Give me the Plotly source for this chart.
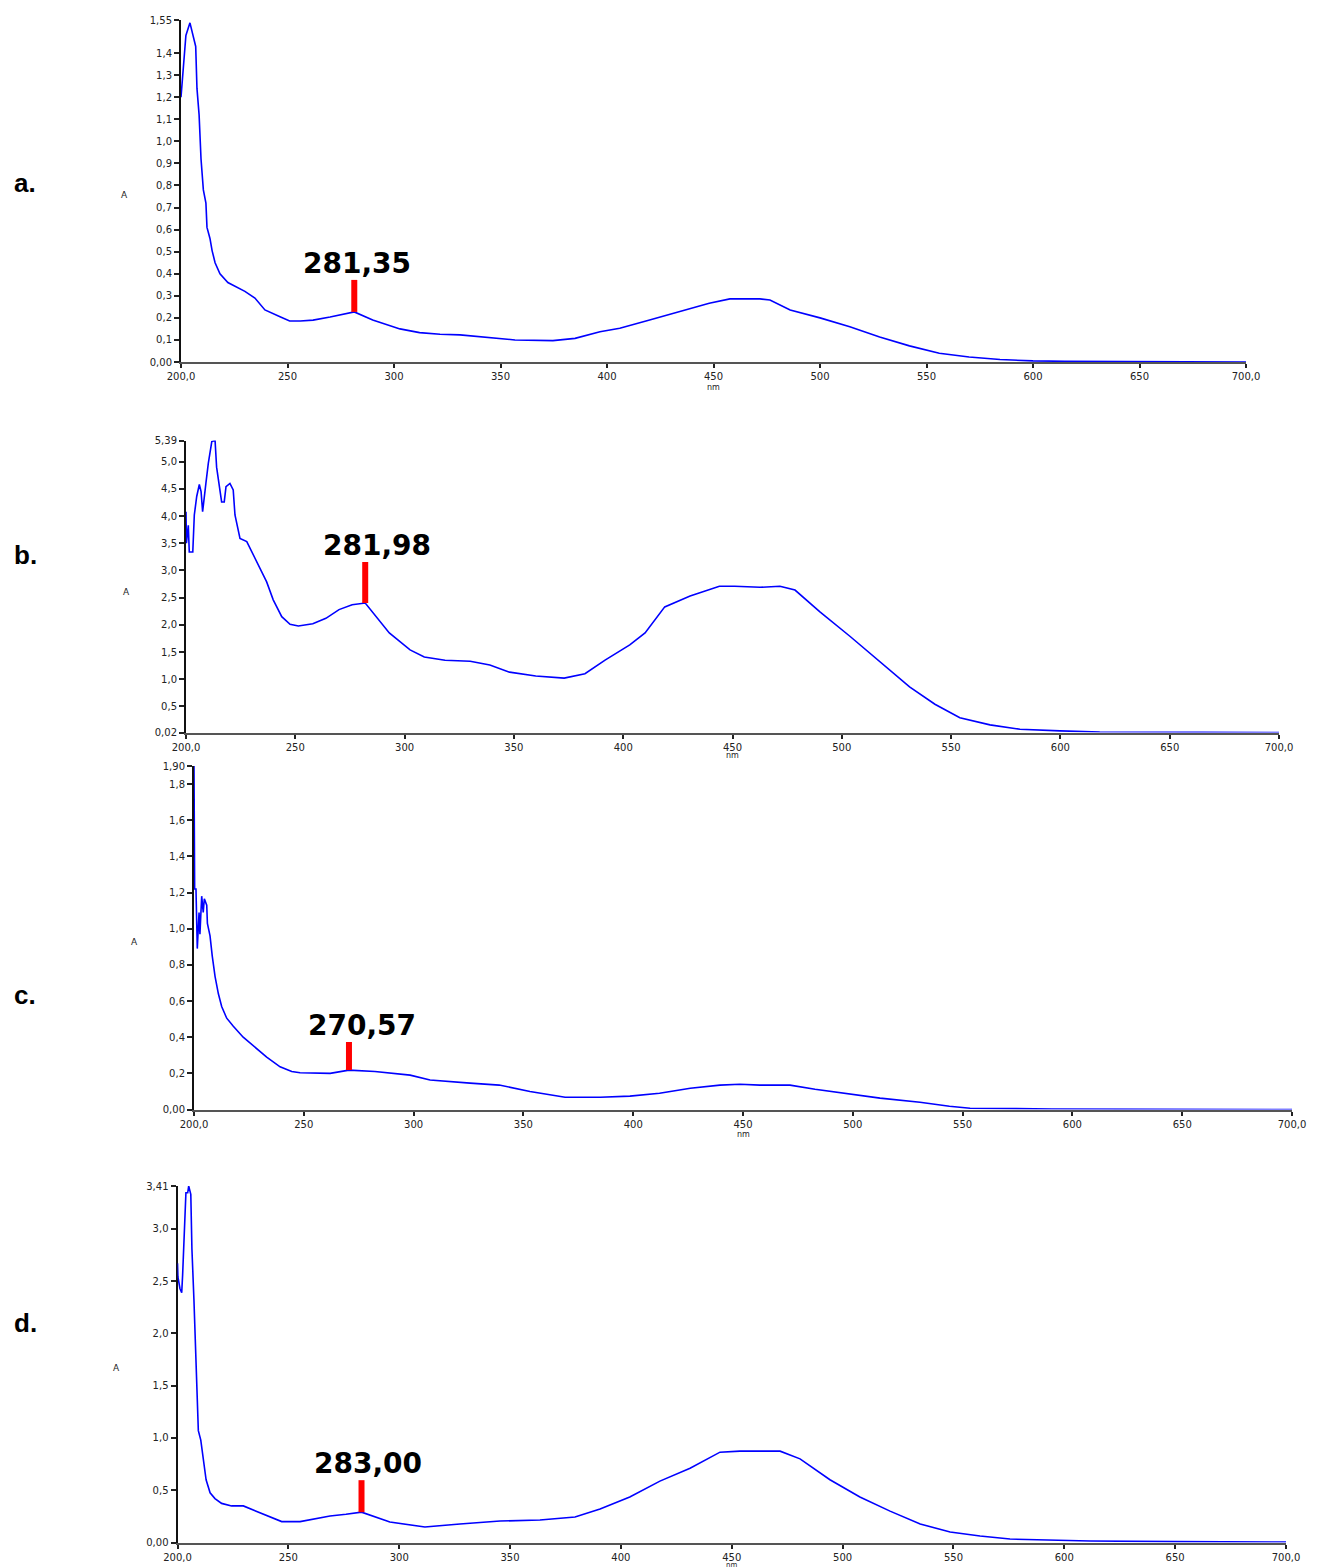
import plotly.graph_objects as go

# ---------------- data ----------------
wl_a = [200.0, 201.2, 202.3, 204.2, 205.6, 206.9, 207.5, 208.5, 209.4, 210.5, 211.7, 212.2, 213.6, 214.6,
        216.0, 218.3, 222.0, 230.0, 234.7, 239.4, 246.5, 251.0, 256.0, 262, 270, 276, 281.35, 290, 302.8,
        312, 321.6, 331, 345, 356.8, 374.6, 385, 396.7, 406, 420, 434, 448, 457.7, 471.8, 476.5, 486, 500,
        514, 528, 542, 556, 570, 584.5, 600, 615, 650, 700]
abs_a = [1.20, 1.33, 1.48, 1.537, 1.48, 1.43, 1.24, 1.12, 0.92, 0.78, 0.72, 0.61, 0.56, 0.505,
         0.45, 0.40, 0.36, 0.32, 0.29, 0.236, 0.205, 0.186, 0.186, 0.19, 0.204, 0.218, 0.227, 0.19, 0.15,
         0.133, 0.126, 0.123, 0.109, 0.10, 0.097, 0.107, 0.137, 0.153, 0.19, 0.228, 0.266, 0.286, 0.286, 0.281, 0.236, 0.20,
         0.16, 0.113, 0.073, 0.04, 0.023, 0.011, 0.005, 0.003, 0.001, 0.0]

wl_b = [200.0, 200.2, 201.05, 201.5, 203.1, 203.8, 204.9, 206.1, 206.9, 207.6, 209.1, 210.2, 211.8, 213.3,
        214.0, 215.2, 216.3, 217.5, 218.3, 220.1, 221.6, 222.4, 223.5, 224.7, 227.8, 230.8, 233.9, 236.9,
        239.9, 243.8, 247.6, 251.4, 258, 264, 270, 276, 281.98, 287, 293, 302.5, 309, 318.5, 330, 339, 348,
        360, 373, 382.5, 391.7, 403, 410, 419, 430.6, 444, 451, 462.6, 471.7, 478.6, 490, 503.7, 517.5, 531,
        542.6, 554, 567.8, 581.5, 599.8, 618, 664, 700]
abs_b = [4.08, 3.5, 3.83, 3.34, 3.34, 4.02, 4.36, 4.58, 4.45, 4.08, 4.6, 4.97, 5.37, 5.39,
         4.9, 4.57, 4.26, 4.26, 4.54, 4.6, 4.48, 4.02, 3.83, 3.59, 3.53, 3.28, 3.04, 2.79,
         2.46, 2.15, 2.01, 1.98, 2.02, 2.12, 2.28, 2.37, 2.40, 2.15, 1.85, 1.54, 1.41, 1.35, 1.33, 1.26, 1.13,
         1.06, 1.02, 1.1, 1.35, 1.63, 1.85, 2.33, 2.53, 2.71, 2.71, 2.69, 2.71, 2.64, 2.24, 1.79, 1.32, 0.86,
         0.54, 0.29, 0.16, 0.08, 0.05, 0.03, 0.025, 0.02]

wl_c = [200.0, 200.1, 200.3, 200.9, 201.5, 202.3, 202.7, 203.5, 204.2, 204.7, 205.8, 206.1, 207.3, 208.3,
        209.6, 211.1, 212.6, 214.9, 217.9, 222.4, 227.8, 233.1, 239.2, 244.5, 248.3, 255, 262, 270.57, 282.4,
        298.4, 307.5, 325.7, 339, 353, 369, 385, 398.5, 412, 426, 439.5, 448.6, 457.7, 471.4, 482.8, 498.7,
        512.4, 530.6, 544, 553.4, 570, 590.7, 640, 700]
abs_c = [1.90, 1.65, 1.22, 1.22, 0.89, 1.09, 0.97, 1.18, 1.09, 1.165, 1.13, 1.03, 0.96, 0.85,
         0.735, 0.64, 0.57, 0.505, 0.46, 0.40, 0.347, 0.29, 0.236, 0.21, 0.203, 0.20, 0.20, 0.218, 0.21,
         0.19, 0.163, 0.146, 0.135, 0.10, 0.068, 0.068, 0.074, 0.09, 0.118, 0.135, 0.14, 0.135, 0.135, 0.112, 0.085,
         0.063, 0.04, 0.018, 0.007, 0.004, 0.003, 0.001, 0.0]

wl_d = [200.0, 200.2, 201.1, 201.9, 202.3, 202.9, 203.8, 204.6, 205.05, 206.0, 206.5, 207.4, 208.7, 209.4,
        210.5, 211.6, 212.9, 214.7, 216.9, 219.9, 224.4, 229.7, 235.7, 241.7, 247, 255.3, 268.8, 276, 283.0,
        295.8, 311.6, 327.4, 345.5, 363.5, 379.3, 390.6, 404, 417.6, 431.2, 444.7, 453.7, 471.8, 480.8, 494.3,
        507.8, 521.4, 535, 548.5, 562, 575.5, 589, 611.6, 650, 700]
abs_d = [2.67, 2.54, 2.43, 2.39, 2.555, 2.83, 3.345, 3.345, 3.41, 3.33, 2.81, 2.33, 1.36, 1.07,
         0.98, 0.79, 0.60, 0.476, 0.42, 0.374, 0.35, 0.35, 0.30, 0.247, 0.20, 0.20, 0.253, 0.27, 0.29,
         0.196, 0.148, 0.177, 0.205, 0.215, 0.244, 0.32, 0.435, 0.587, 0.71, 0.864, 0.874, 0.874, 0.80, 0.60,
         0.435, 0.30, 0.177, 0.10, 0.062, 0.033, 0.024, 0.014, 0.008, 0.005]

panel_labels = ["a.", "b.", "c.", "d."]
peak_labels = ["281,35", "281,98", "270,57", "283,00"]
peak_wl = [281.35, 281.98, 270.57, 283.00]
peak_abs = [0.227, 2.40, 0.218, 0.29]

x_tickvals = [200, 250, 300, 350, 400, 450, 500, 550, 600, 650, 700]
x_ticktext = ["200,0", "250", "300", "350", "400", "450", "500", "550", "600", "650", "700,0"]

y_tickvals_a = [0.0, 0.1, 0.2, 0.3, 0.4, 0.5, 0.6, 0.7, 0.8, 0.9, 1.0, 1.1, 1.2, 1.3, 1.4, 1.55]
y_ticktext_a = ["0,00", "0,1", "0,2", "0,3", "0,4", "0,5", "0,6", "0,7", "0,8", "0,9", "1,0", "1,1", "1,2", "1,3", "1,4", "1,55"]
y_tickvals_b = [0.02, 0.5, 1.0, 1.5, 2.0, 2.5, 3.0, 3.5, 4.0, 4.5, 5.0, 5.39]
y_ticktext_b = ["0,02", "0,5", "1,0", "1,5", "2,0", "2,5", "3,0", "3,5", "4,0", "4,5", "5,0", "5,39"]
y_tickvals_c = [0.0, 0.2, 0.4, 0.6, 0.8, 1.0, 1.2, 1.4, 1.6, 1.8, 1.90]
y_ticktext_c = ["0,00", "0,2", "0,4", "0,6", "0,8", "1,0", "1,2", "1,4", "1,6", "1,8", "1,90"]
y_tickvals_d = [0.0, 0.5, 1.0, 1.5, 2.0, 2.5, 3.0, 3.41]
y_ticktext_d = ["0,00", "0,5", "1,0", "1,5", "2,0", "2,5", "3,0", "3,41"]

# ---------------- layout geometry (page pixels) ----------------
PAGE_W, PAGE_H = 1327, 1568
OFF = 8                      # default body margin of the html page
W, H = PAGE_W - OFF, PAGE_H - OFF


def fx(px):
    return (px - OFF) / W


def fy(py):
    return 1 - (py - OFF) / H


panels = [
    dict(wl=wl_a, ab=abs_a, yr=[0, 1.55], tv=y_tickvals_a, tt=y_ticktext_a,
         x0=181, x1=1246, top=20, bot=362, lab_y=183, A_xy=(124, 195), nm_y=387, nm_size=8, bar=32, tx=3),
    dict(wl=wl_b, ab=abs_b, yr=[0.02, 5.39], tv=y_tickvals_b, tt=y_ticktext_b,
         x0=186, x1=1279, top=440.5, bot=732.5, lab_y=555, A_xy=(126, 592), nm_y=755, nm_size=8, bar=41, tx=12),
    dict(wl=wl_c, ab=abs_c, yr=[0, 1.90], tv=y_tickvals_c, tt=y_ticktext_c,
         x0=194, x1=1292, top=766, bot=1109.5, lab_y=995, A_xy=(134, 942), nm_y=1134, nm_size=8, bar=28, tx=13),
    dict(wl=wl_d, ab=abs_d, yr=[0, 3.41], tv=y_tickvals_d, tt=y_ticktext_d,
         x0=177.5, x1=1286, top=1186, bot=1542.5, lab_y=1323, A_xy=(117, 1368), nm_y=1564.5, nm_size=7, bar=32, tx=6),
]

fig = go.Figure()
tickfont = dict(family="DejaVu Sans", size=10, color="#222222")
layout = dict(template="none", width=W, height=H, margin=dict(l=0, r=0, t=0, b=0, pad=0, autoexpand=False),
              paper_bgcolor="white", plot_bgcolor="white", showlegend=False)
annotations = []
shapes = []

for i, p in enumerate(panels):
    n = "" if i == 0 else str(i + 1)
    xa, ya = "x" + n, "y" + n
    fig.add_trace(go.Scatter(x=p["wl"], y=p["ab"], mode="lines",
                             line=dict(color="#0000ff", width=1.6),
                             xaxis=xa, yaxis=ya, hoverinfo="skip", cliponaxis=False))
    layout["xaxis" + n] = dict(domain=[fx(p["x0"]), fx(p["x1"])], range=[200, 700], anchor=ya,
                               automargin=False,
                               showgrid=False, zeroline=False, showline=True, linecolor="#555555",
                               linewidth=2, ticks="outside", ticklen=4, tickwidth=1.5, tickcolor="#222",
                               tickvals=x_tickvals, ticktext=x_ticktext, tickfont=tickfont,
                               layer="below traces", fixedrange=True)
    layout["yaxis" + n] = dict(domain=[fy(p["bot"]), fy(p["top"])], range=p["yr"], anchor=xa,
                               automargin=False,
                               showgrid=False, zeroline=False, showline=True, linecolor="#111111",
                               linewidth=2, ticks="outside", ticklen=5, tickwidth=1.5, tickcolor="#222",
                               tickvals=p["tv"], ticktext=p["tt"], tickfont=tickfont,
                               layer="below traces", fixedrange=True)
    # red peak marker bar
    shapes.append(dict(type="line", xref=xa, yref=ya, x0=peak_wl[i], x1=peak_wl[i],
                       ysizemode="pixel", yanchor=peak_abs[i], y0=0, y1=p["bar"],
                       line=dict(color="#ff0000", width=6)))
    annotations.append(dict(xref=xa, yref=ya, x=peak_wl[i], y=peak_abs[i], text=peak_labels[i],
                            showarrow=False, xanchor="center", yanchor="bottom",
                            xshift=p["tx"], yshift=p["bar"] - 2,
                            font=dict(family="DejaVu Sans", size=28, color="black", weight="bold")))
    # panel letter
    annotations.append(dict(xref="paper", yref="paper", x=fx(12), y=fy(p["lab_y"]),
                            text="<b>" + panel_labels[i] + "</b>", showarrow=False,
                            xanchor="left", yanchor="middle",
                            font=dict(family="Liberation Sans", size=26, color="black")))
    # axis titles
    annotations.append(dict(xref="paper", yref="paper", x=fx(p["A_xy"][0]), y=fy(p["A_xy"][1]),
                            text="A", showarrow=False, xanchor="center", yanchor="middle",
                            font=dict(family="DejaVu Sans", size=9, color="#222")))
    annotations.append(dict(xref="paper", yref="paper", x=fx((p["x0"] + p["x1"]) / 2),
                            y=fy(p["nm_y"]), text="nm", showarrow=False,
                            xanchor="center", yanchor="middle",
                            font=dict(family="DejaVu Sans", size=p["nm_size"], color="#222")))

layout["annotations"] = annotations
layout["shapes"] = shapes
fig.update_layout(**layout)
fig.write_html("out.html", config={"displayModeBar": False})
